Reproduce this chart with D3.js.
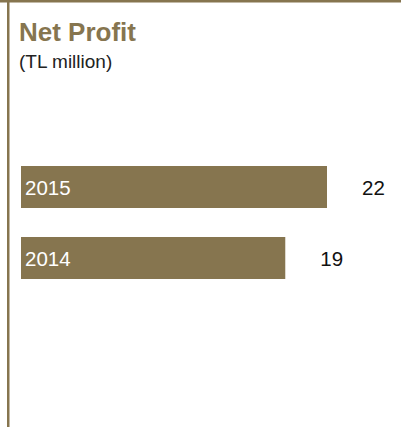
<!DOCTYPE html>
<html>
<head>
<meta charset="utf-8">
<script src="https://cdn.jsdelivr.net/npm/d3@7"></script>
<style>
  html, body { margin: 0; padding: 0; background: #fff; }
  svg { display: block; font-family: "Liberation Sans", Arial, Helvetica, sans-serif; }
</style>
</head>
<body>
<div id="chart"></div>
<script>
// Net profit by year, TL million
const years = ["2015", "2014"];
const profits = [22, 19];
const title = "Net Profit";
const subtitle = "(TL million)";

const W = 401, H = 427;
const gold = "#86754f";

const svg = d3.select("#chart").append("svg")
  .attr("width", W).attr("height", H);

// frame: rule along the top and down the left side
svg.append("rect").attr("x", 0).attr("y", 0).attr("width", W).attr("height", 2.5).attr("fill", gold);
svg.append("rect").attr("x", 7).attr("y", 0).attr("width", 2.5).attr("height", H).attr("fill", gold);

svg.append("text")
  .attr("x", 19).attr("y", 41)
  .attr("font-size", 26).attr("font-weight", "bold")
  .attr("fill", gold)
  .text(title);

svg.append("text")
  .attr("x", 19).attr("y", 68)
  .attr("font-size", 19)
  .attr("fill", "#222")
  .text(subtitle);

const x = d3.scaleLinear().domain([0, 22]).range([21, 327]);
const y = d3.scaleBand().domain(years).range([166, 279]).paddingInner(29 / 71).paddingOuter(0);

const rows = years.map((yr, i) => ({ year: yr, value: profits[i] }));

const g = svg.append("g");
g.selectAll("rect.bar").data(rows).join("rect")
  .attr("class", "bar")
  .attr("x", x(0))
  .attr("y", d => y(d.year))
  .attr("width", d => x(d.value) - x(0))
  .attr("height", y.bandwidth())
  .attr("fill", gold);

g.selectAll("text.year").data(rows).join("text")
  .attr("class", "year")
  .attr("x", x(0) + 4)
  .attr("y", d => y(d.year) + y.bandwidth() / 2 + 7.5)
  .attr("font-size", 20.5)
  .attr("fill", "#fff")
  .text(d => d.year);

g.selectAll("text.value").data(rows).join("text")
  .attr("class", "value")
  .attr("x", d => x(d.value) + 35)
  .attr("y", d => y(d.year) + y.bandwidth() / 2 + 7.5)
  .attr("font-size", 20.5)
  .attr("fill", "#111")
  .text(d => d.value);
</script>
</body>
</html>
